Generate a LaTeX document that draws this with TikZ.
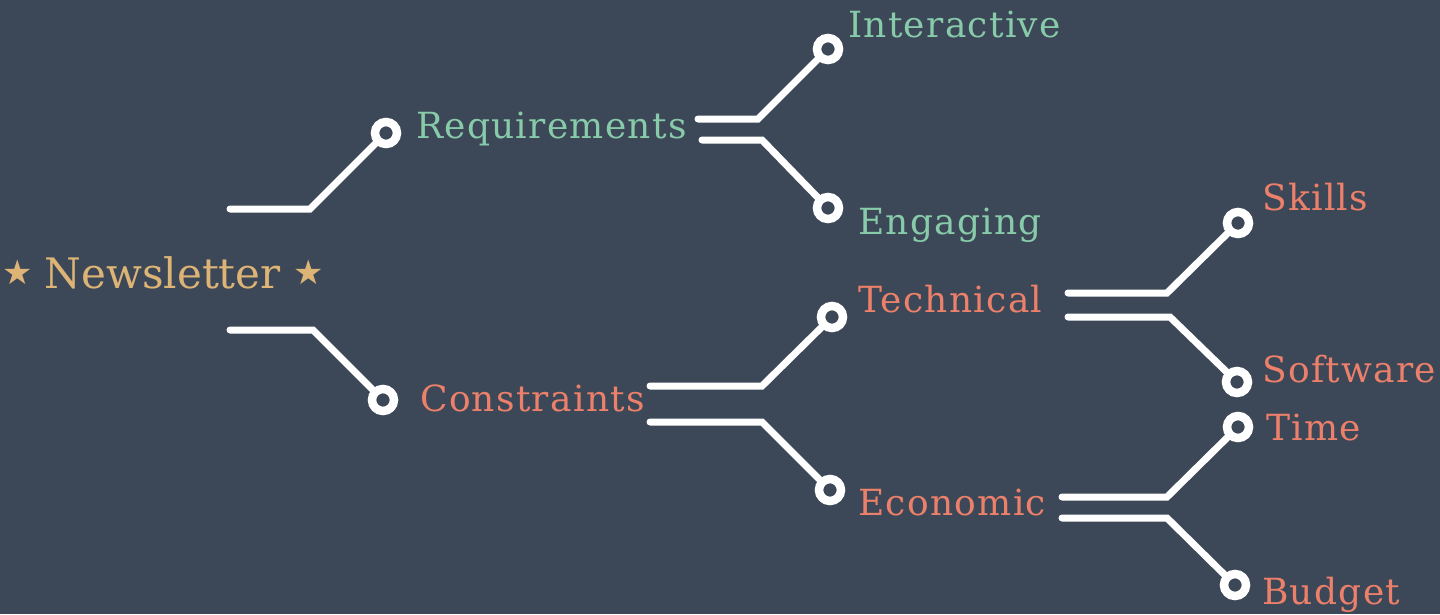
\documentclass[tikz,border=0pt]{standalone}
\usepackage{fontspec}
\setmainfont{DejaVu Serif}
\newfontfamily\labelfont[LetterSpace=3.6]{DejaVu Serif}
\newfontfamily\starfont{DejaVu Sans}

\definecolor{slate}{HTML}{3C4857}
\definecolor{mint}{HTML}{88CBAA}
\definecolor{coral}{HTML}{EC806A}
\definecolor{sand}{HTML}{DDB476}

\newcommand{\gstar}{\raisebox{3.5pt}{\starfont\fontsize{34}{34}\selectfont ★}}

\tikzset{
  wire/.style={draw=white, line width=7pt, line cap=round},
  pin/.style={circle, draw=white, fill=slate, line width=8.5pt, minimum size=22pt, inner sep=0pt},
  leaf/.style={anchor=base west, inner sep=0pt, font=\labelfont\fontsize{36}{40}\selectfont},
}

\begin{document}
\begin{tikzpicture}[x=1pt, y=-1pt]
  %background
  \fill[slate] (0,0) rectangle (1440,614);
  \useasboundingbox (0,0) rectangle (1440,614);

  %labels
  \node[leaf, text=sand, font=\fontsize{42}{46}\selectfont] (news) at (2,288) {\gstar\hspace{12pt}Newsletter\hspace{13pt}\gstar};
  \node[leaf, text=mint] (req) at (416,138) {Requirements};
  \node[leaf, text=mint] (inter) at (848,37) {Interactive};
  \node[leaf, text=mint] (eng) at (858,234) {Engaging};
  \node[leaf, text=coral] (con) at (420,411) {Constraints};
  \node[leaf, text=coral] (tech) at (858,312) {Technical};
  \node[leaf, text=coral] (econ) at (858,515) {Economic};
  \node[leaf, text=coral] (skill) at (1262,210) {Skills};
  \node[leaf, text=coral] (soft) at (1262,382) {Software};
  \node[leaf, text=coral] (time) at (1266,440) {Time};
  \node[leaf, text=coral] (budg) at (1262,604) {Budget};

  %pins
  \node[pin] (p-req) at (386,133) {};
  \node[pin] (p-con) at (383,400) {};
  \node[pin] (p-inter) at (828,49) {};
  \node[pin] (p-eng) at (828,208) {};
  \node[pin] (p-tech) at (832,317) {};
  \node[pin] (p-econ) at (830,490) {};
  \node[pin] (p-skill) at (1238,223) {};
  \node[pin] (p-soft) at (1237,382) {};
  \node[pin] (p-time) at (1238,427) {};
  \node[pin] (p-budg) at (1235,585) {};

  %free ends of the wires
  \coordinate (news-a) at (230,209);
  \coordinate (news-b) at (230,330);
  \coordinate (req-a) at (698,119);
  \coordinate (req-b) at (702,140);
  \coordinate (con-a) at (650,386);
  \coordinate (con-b) at (650,422);
  \coordinate (tech-a) at (1068,293);
  \coordinate (tech-b) at (1068,317);
  \coordinate (econ-a) at (1062,497);
  \coordinate (econ-b) at (1062,518);

  %wires
  \draw[wire] (news-a) -- ++(80,0) -- (p-req);
  \draw[wire] (news-b) -- ++(83,0) -- (p-con);
  \draw[wire] (req-a) -- ++(60,0) -- (p-inter);
  \draw[wire] (req-b) -- ++(60,0) -- (p-eng);
  \draw[wire] (con-a) -- ++(112,0) -- (p-tech);
  \draw[wire] (con-b) -- ++(112,0) -- (p-econ);
  \draw[wire] (tech-a) -- ++(99,0) -- (p-skill);
  \draw[wire] (tech-b) -- ++(102,0) -- (p-soft);
  \draw[wire] (econ-a) -- ++(105,0) -- (p-time);
  \draw[wire] (econ-b) -- ++(105,0) -- (p-budg);
\end{tikzpicture}
\end{document}
